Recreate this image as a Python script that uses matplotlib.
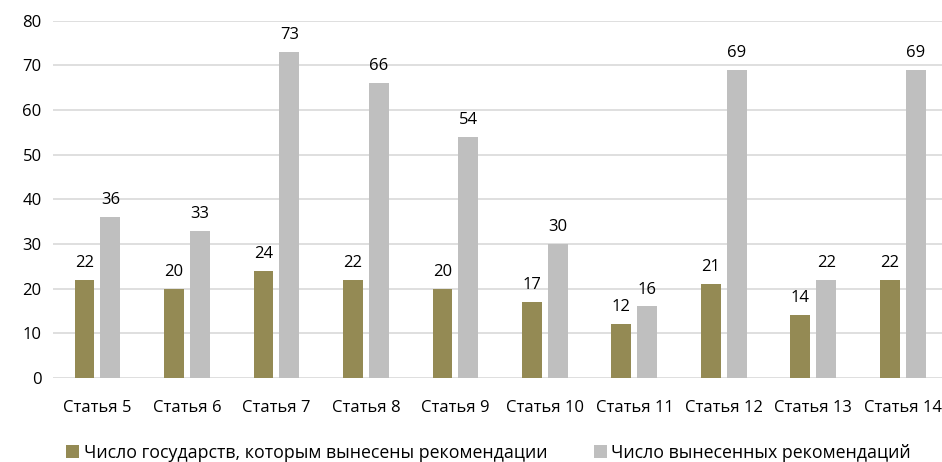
import numpy as np
import matplotlib
matplotlib.use('Agg')
from matplotlib import pyplot as plt

# Data
categories = ['Статья 5', 'Статья 6', 'Статья 7', 'Статья 8', 'Статья 9',
              'Статья 10', 'Статья 11', 'Статья 12', 'Статья 13', 'Статья 14']
states = [22, 20, 24, 22, 20, 17, 12, 21, 14, 22]
recommendations = [36, 33, 73, 66, 54, 30, 16, 69, 22, 69]
series_names = ['Число государств, которым вынесены рекомендации',
                'Число вынесенных рекомендаций']

plt.rcParams['font.family'] = ['Open Sans', 'DejaVu Sans']

fig = plt.figure(figsize=(9.42, 4.62), dpi=100)
ax = fig.add_axes([0.056, 0.182, 0.95, 0.773])

x = np.arange(len(categories))
w = 0.223
off = 0.145
b1 = ax.bar(x - off, states, w, color='#948A54', label=series_names[0], zorder=3)
b2 = ax.bar(x + off, recommendations, w, color='#BFBFBF', label=series_names[1], zorder=3)

for bars in (b1, b2):
    for b in bars:
        ax.text(b.get_x() + b.get_width() / 2, b.get_height() + 2.0,
                str(int(b.get_height())), ha='center', va='bottom', fontsize=12, color='#000000')

ax.set_xlim(-0.5, len(categories) - 0.5)
ax.set_ylim(0, 80)
ax.set_yticks(range(0, 81, 10))
ax.set_xticks(x)
ax.set_xticklabels(categories)
ax.yaxis.grid(True, color='#D9D9D9', linewidth=1.2, zorder=0)
ax.tick_params(axis='both', length=0, labelsize=12, colors='#000000')
ax.tick_params(axis='x', pad=16)
ax.tick_params(axis='y', pad=8)
for s in ax.spines.values():
    s.set_visible(False)

ax.legend(loc='center', bbox_to_anchor=(0.487, -0.21), ncol=2, frameon=False,
          fontsize=12.8, handlelength=0.75, handleheight=0.75, handletextpad=0.25, columnspacing=2.6)

plt.savefig('out.png', dpi=100)
